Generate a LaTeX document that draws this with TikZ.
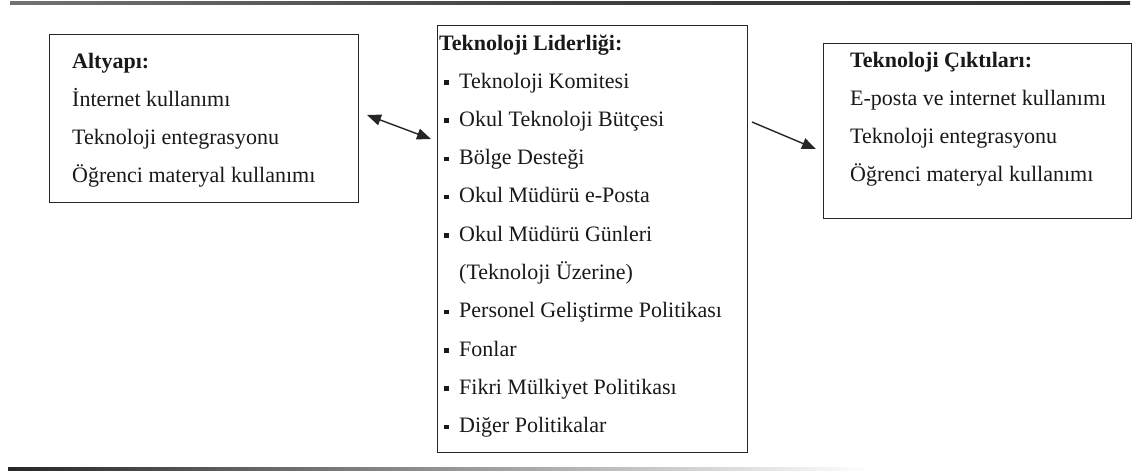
\documentclass[tikz,border=0pt]{standalone}
\usepackage{fontspec}
\setmainfont{Liberation Serif}
\usetikzlibrary{arrows.meta}
\newcommand{\sqbullet}{\rule[3.5pt]{4.5pt}{4.5pt}\hspace{10.5pt}}
\begin{document}
\begin{tikzpicture}[x=1pt,y=-1pt,
  box/.style={draw=black!85,line width=1.3pt,anchor=north west,inner sep=0pt},
  txt/.style={anchor=base west,inner sep=0pt,text=black!90,font=\fontsize{22}{26}\selectfont},
  ttl/.style={txt,font=\fontsize{22}{26}\selectfont\bfseries},
  arr/.style={line width=1.4pt,black!85,-{Triangle[length=14pt,width=11pt]}},
  darr/.style={line width=1.4pt,black!85,{Triangle[length=14pt,width=11pt]}-{Triangle[length=14pt,width=11pt]}}]
\useasboundingbox[fill=white] (0,0) rectangle (1137,472);
% rules
\shade[left color=black!55,right color=black!80,middle color=black!75] (10,1.8) rectangle (1130,4.5);
\shade[left color=black!85,middle color=black!55,right color=white] (8,467.5) rectangle (870,470.5);
% boxes
\node[box,minimum width=309,minimum height=168] (alt) at (49,34) {};
\node[box,minimum width=310,minimum height=427] (lid) at (437,25) {};
\node[box,minimum width=308,minimum height=175] (cik) at (823,43) {};
% left texts
\node[ttl] (a0) at (72,68) {Altyapı:};
\node[txt] (a1) at (72,106) {İnternet kullanımı};
\node[txt] (a2) at (72,144) {Teknoloji entegrasyonu};
\node[txt] (a3) at (72,182) {Öğrenci materyal kullanımı};
% middle texts
\node[ttl] (l0) at (439,50) {Teknoloji Liderliği:};
\node[txt] (l1) at (444,88) {\sqbullet Teknoloji Komitesi};
\node[txt] (l2) at (444,126.3) {\sqbullet Okul Teknoloji Bütçesi};
\node[txt] (l3) at (444,164.6) {\sqbullet Bölge Desteği};
\node[txt] (l4) at (444,202.9) {\sqbullet Okul Müdürü e-Posta};
\node[txt] (l5) at (444,241.2) {\sqbullet Okul Müdürü Günleri};
\node[txt] (l6) at (459,279.5) {(Teknoloji Üzerine)};
\node[txt] (l7) at (444,317.8) {\sqbullet Personel Geliştirme Politikası};
\node[txt] (l8) at (444,356.1) {\sqbullet Fonlar};
\node[txt] (l9) at (444,394.4) {\sqbullet Fikri Mülkiyet Politikası};
\node[txt] (l10) at (444,432.7) {\sqbullet Diğer Politikalar};
% right texts
\node[ttl] (c0) at (850,67) {Teknoloji Çıktıları:};
\node[txt] (c1) at (850,105) {E-posta ve internet kullanımı};
\node[txt] (c2) at (850,143) {Teknoloji entegrasyonu};
\node[txt] (c3) at (850,181) {Öğrenci materyal kullanımı};
% arrows
\coordinate (d1) at (367,115);
\coordinate (d2) at (431,139);
\coordinate (r1) at (752,122);
\coordinate (r2) at (816,149);
\draw[darr] (d1) -- (d2);
\draw[arr] (r1) -- (r2);
\end{tikzpicture}
\end{document}
